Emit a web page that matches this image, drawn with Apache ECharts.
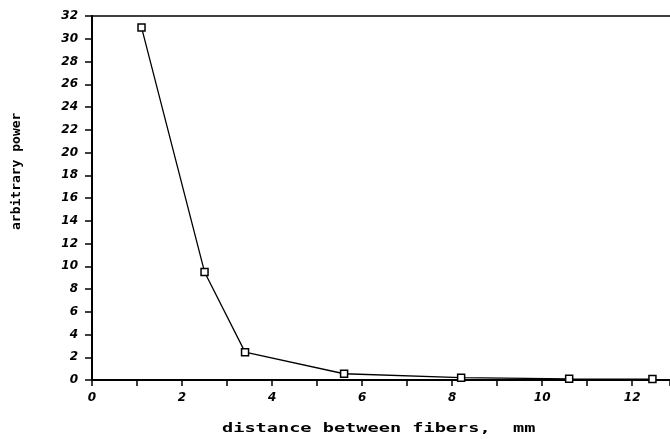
<!DOCTYPE html>
<html><head><meta charset="utf-8">
<script src="https://cdn.jsdelivr.net/npm/echarts@6/dist/echarts.min.js"></script>
<style>html,body{margin:0;padding:0;background:#fff}#c{width:670px;height:439px}</style>
</head><body><div id="c"></div>
<script>
const distances = [1.1, 2.5, 3.4, 5.6, 8.2, 10.6, 12.45];
const powers = [31, 9.5, 2.45, 0.55, 0.2, 0.1, 0.08];
const xTitle = 'distance between fibers,  mm';
const yTitle = 'arbitrary power';

const chart = echarts.init(document.getElementById('c'));
const tickFont = {fontFamily:'DejaVu Sans', fontStyle:'italic', fontWeight:'bold', fontSize:12, color:'#000'};
chart.setOption({
  animation:false,
  backgroundColor:'#fff',
  grid:{left:92, top:16, right:0, bottom:59, containLabel:false},
  xAxis:[{
    type:'value', min:0, max:12.84, interval:2,
    axisLine:{show:true, onZero:false, lineStyle:{color:'#000', width:2}},
    axisTick:{show:true, length:6, lineStyle:{color:'#000', width:1.5}},
    minorTick:{show:true, splitNumber:2, length:6, lineStyle:{color:'#000', width:1.5}},
    axisLabel:Object.assign({margin:12, showMaxLabel:false}, tickFont),
    splitLine:{show:false}
  },{
    type:'value', position:'top', min:0, max:12.84,
    axisLine:{show:true, onZero:false, lineStyle:{color:'#000', width:1.5}},
    axisTick:{show:false}, axisLabel:{show:false}, splitLine:{show:false}
  }],
  yAxis:{
    type:'value', min:0, max:32, interval:2,
    axisLine:{show:true, onZero:false, lineStyle:{color:'#000', width:2}},
    axisTick:{show:true, length:7, lineStyle:{color:'#000', width:1.5}},
    axisLabel:Object.assign({margin:14}, tickFont),
    splitLine:{show:false}
  },
  graphic:[
    {type:'text', left:222, top:422, scaleX:1.43,
     style:{text:xTitle, font:'bold 13px "DejaVu Sans Mono"', fill:'#000'}},
    {type:'text', x:10, y:230, rotation:Math.PI/2,
     style:{text:yTitle, font:'bold 13px "DejaVu Sans Mono"', fill:'#000', textAlign:'left', textVerticalAlign:'top'}}
  ],
  series:[{
    type:'line',
    data:distances.map((d,i)=>[d, powers[i]]),
    symbol:'rect', symbolSize:7, showAllSymbol:true,
    lineStyle:{color:'#000', width:1.3},
    itemStyle:{color:'#fff', borderColor:'#000', borderWidth:1.5}
  }]
});
</script></body></html>
